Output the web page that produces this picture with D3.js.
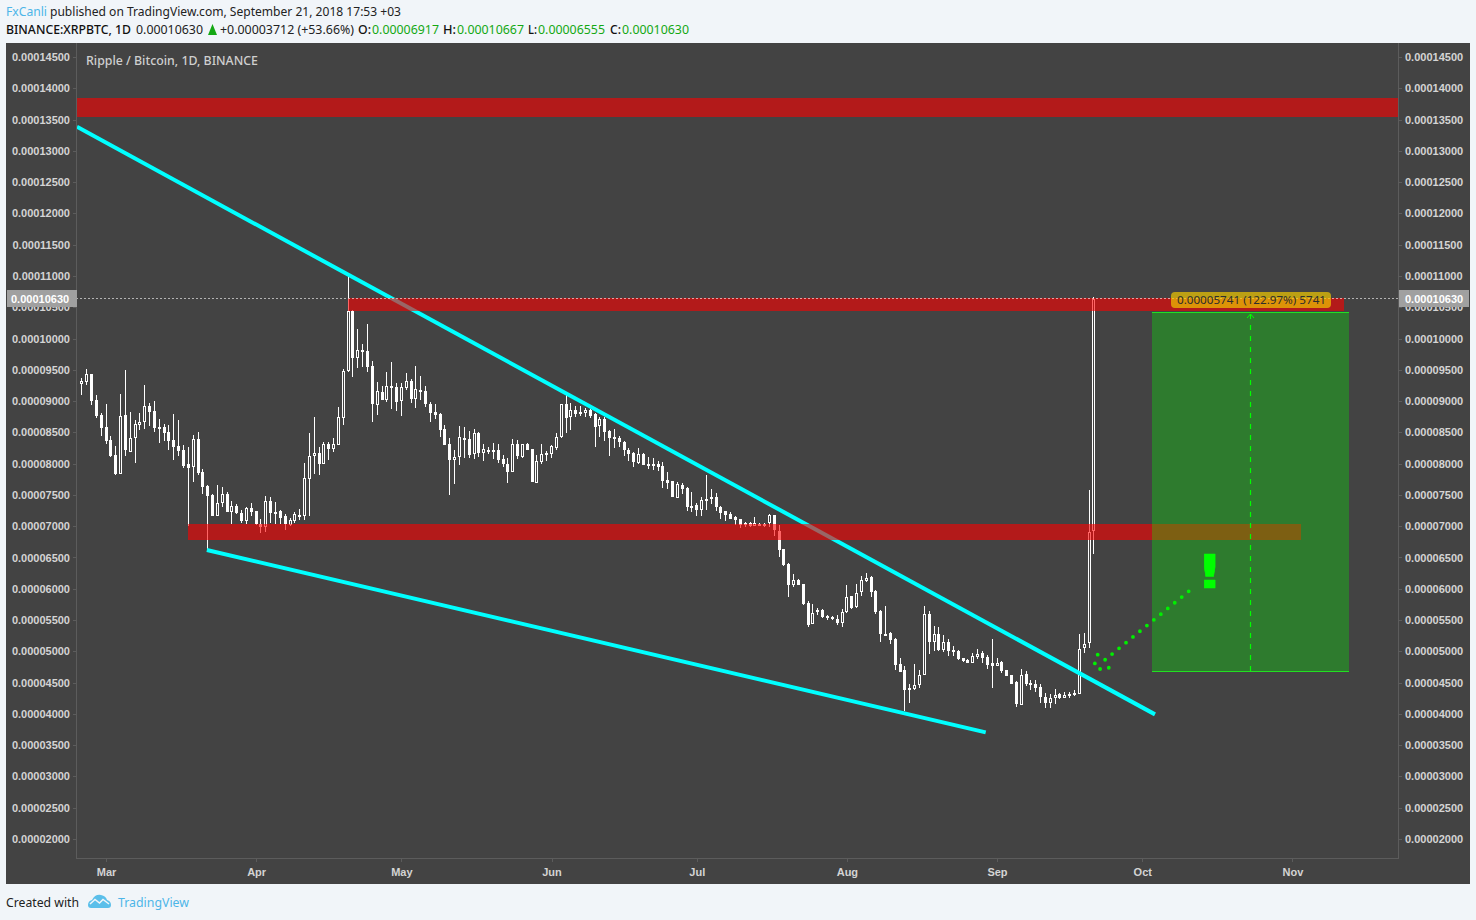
<!DOCTYPE html>
<html>
<head>
<meta charset="utf-8">
<style>html,body{margin:0;padding:0;background:#f1f5f9;overflow:hidden}svg{display:block}</style>
<script src="https://cdn.jsdelivr.net/npm/d3@7/dist/d3.min.js"></script>
</head>
<body>
<script>
// Daily candles in satoshi (1e-8 BTC), first candle 2018-02-24
const firstDay = "2018-02-24";
const opens = [
9278,9310,9432,9016,8777,8579,8377,8137,7838,8777,
8190,8414,8622,8670,8921,8841,8579,8585,8505,8377,
8281,8217,7988,7950,8393,7860,7641,7497,7167,7364,
7514,7231,7321,7210,7082,7290,7236,7034,6991,7396,
7220,7236,7162,7023,7082,7178,7162,7759,8115,8169,
7998,8314,8234,8303,8735,9481,10446,9694,9811,9801,
9561,8932,9145,9023,9236,9220,8996,9215,9321,9039,
9172,9161,8953,8820,8793,8553,8308,8058,8100,8404,
8394,8159,8484,8170,8223,8212,8212,8069,7994,7871,
8314,8111,8314,8234,7695,8031,8175,8159,8255,8431,
8948,8750,8856,8830,8814,8861,8792,8606,8712,8515,
8419,8403,8339,8217,8174,8009,8153,7993,7993,7993,
7961,7737,7721,7454,7662,7609,7321,7332,7257,7433,
7460,7460,7305,7236,7193,7145,7113,7044,7054,7006,
7038,7038,7044,7177,6921,6632,6392,6056,6147,6072,
5774,5433,5625,5667,5571,5550,5523,5454,5630,5881,
5710,5950,6120,6190,5966,5646,5284,5294,5198,4793,
4697,4410,4399,4457,4628,5593,5150,5284,5023,5156,
5017,5001,4889,4856,4814,4910,4968,4910,4808,4766,
4824,4696,4616,4504,4147,4632,4488,4472,4424,4275,
4174,4254,4312,4254,4323,4334,4318,5048,5128,6917];
const closes = [
9315,9427,9006,8766,8574,8366,8121,7833,8755,8222,
8403,8633,8659,8915,8830,8569,8558,8489,8361,8270,
8201,7961,7934,8393,7844,7625,7481,7167,7364,7508,
7226,7316,7215,7082,7284,7226,7034,6991,7396,7210,
7210,7130,7034,7092,7194,7167,7764,8115,8164,7993,
8308,8234,8308,8740,9476,10440,9694,9811,9779,9550,
8959,9156,9023,9236,9215,8991,9220,9316,9039,9188,
9145,8953,8815,8777,8543,8303,8058,8100,8420,8394,
8138,8484,8170,8228,8186,8186,8058,7994,7871,8308,
8127,8308,8218,7706,8037,8148,8148,8276,8431,8948,
8735,8856,8787,8792,8856,8766,8590,8712,8510,8414,
8398,8345,8217,8158,8025,8147,7982,7961,7961,7945,
7721,7689,7470,7673,7598,7310,7305,7257,7417,7401,
7433,7305,7209,7177,7118,7097,7027,7028,7001,7044,
7001,7001,7177,6937,6616,6376,6056,6147,6062,5753,
5428,5620,5667,5545,5545,5513,5454,5635,5875,5699,
5939,6147,6179,5950,5630,5284,5257,5177,4777,4665,
4377,4377,4468,4628,5593,5150,5284,5017,5156,5007,
4996,4873,4841,4814,4920,4963,4888,4776,4771,4819,
4680,4606,4483,4153,4627,4472,4462,4408,4265,4174,
4259,4307,4254,4307,4302,4318,5043,5112,6909,10630];
const highs = [
9363,9512,9432,9096,8803,8952,8441,8281,9112,9496,
8830,8697,8803,9256,8974,9000,8713,8627,8617,8793,
8697,8297,8260,8457,8505,7908,7657,7508,7657,7625,
7551,7401,7348,7258,7300,7364,7236,7114,7481,7460,
7385,7258,7194,7124,7220,7274,8009,8489,8745,8270,
8340,8351,8404,8905,9507,11050,10456,10147,9913,10233,
9641,9300,9241,9465,9625,9284,9284,9444,9358,9556,
9401,9236,8991,8948,8804,8617,8404,8218,8602,8591,
8522,8554,8500,8314,8260,8324,8314,8133,8095,8388,
8378,8314,8330,8234,8138,8314,8202,8292,8495,8948,
9097,8963,8920,8920,8883,8872,8814,8739,8739,8536,
8547,8446,8366,8243,8190,8243,8174,8099,8083,8041,
8025,7870,7726,7700,7683,7619,7545,7364,7460,7817,
7587,7524,7321,7246,7220,7161,7113,7065,7070,7150,
7044,7054,7193,7177,7016,6643,6419,6243,6163,6083,
5801,5763,5699,5683,5577,5566,5577,5683,6067,5881,
6083,6200,6254,6200,5977,5657,5721,5310,5209,4889,
4761,4474,4793,4697,5731,5641,5401,5390,5257,5204,
5081,5017,4900,4883,4979,5032,5006,4936,5192,4899,
4840,4707,4627,4520,4723,4680,4547,4536,4472,4339,
4323,4392,4334,4350,4350,4376,5283,5288,7576,10667];
const lows = [
9102,9256,8937,8734,8441,8313,8110,7823,7838,8121,
8190,8014,8537,8558,8601,8510,8334,8361,8217,8057,
8121,7924,7000,7705,7812,7514,6584,7167,7167,7311,
7226,7028,7199,7055,7034,7162,7018,6895,6911,7044,
7034,7034,6938,7007,7044,7098,7098,7162,7833,7817,
7998,8058,8191,8303,8617,9460,9390,9534,9550,9470,
8671,8783,9017,8991,8868,8847,8767,9177,8975,8895,
9017,8911,8671,8713,8431,8298,7498,7674,7978,8085,
8085,8074,8106,8047,8154,8069,8015,7941,7685,7871,
8069,8085,8218,7706,7695,7994,8047,8095,8218,8415,
8495,8536,8750,8766,8750,8734,8270,8430,8366,8126,
8254,8270,8126,8041,7950,7993,7982,7918,7897,7886,
7614,7598,7470,7454,7513,7246,7230,7161,7161,7257,
7353,7246,7118,7086,7118,7022,6975,6990,6990,7006,
7001,6980,6990,6840,6510,6366,5870,6030,6062,5737,
5390,5433,5577,5540,5507,5497,5428,5390,5614,5678,
5694,5881,6105,5870,5593,5150,5241,5124,4697,4665,
4042,4175,4388,4420,4628,4953,5007,5007,4991,4921,
4921,4857,4830,4814,4814,4878,4814,4723,4414,4766,
4654,4606,4472,4110,4147,4440,4387,4350,4174,4094,
4094,4163,4232,4254,4254,4281,4318,4974,5053,6555];

const priceTicks = [14500,14000,13500,13000,12500,12000,11500,11000,10500,10000,9500,9000,8500,8000,7500,7000,6500,6000,5500,5000,4500,4000,3500,3000,2500,2000];
const monthTicks = ["2018-03-01","2018-04-01","2018-05-01","2018-06-01","2018-07-01","2018-08-01","2018-09-01","2018-10-01","2018-11-01"];
const lastPrice = 10630;

// Drawn objects, by date and price
const redZoneStarts = ["2018-02-23","2018-04-20","2018-03-18"];
const redZoneEnds   = ["2018-12-31","2018-11-11T17:00Z","2018-11-02T19:00Z"];
const redZoneTops   = [13848,10653,7037];
const redZoneBottoms= [13544,10435,6784];
const trendStartDates = ["2018-02-23T00:00Z","2018-03-21T20:00Z"];
const trendStartPrices = [13384,6620];
const trendEndDates = ["2018-10-03T15:00Z","2018-08-29T16:00Z"];
const trendEndPrices = [3992,3704];
const boxStart = "2018-10-02T22:00Z", boxEnd = "2018-11-12T19:00Z", boxMid = "2018-10-23T08:00Z";
const boxEntry = 4677, boxTarget = 10418;
const arrowStart = ["2018-10-10T14:00Z",5959], arrowEnd = ["2018-09-21T22:00Z",4776];
const arrowDates = ["2018-09-21T19:00Z","2018-09-21T05:00Z","2018-09-22T07:00Z","2018-09-24T02:00Z"];
const arrowPrices = [4946,4807,4717,4737];
const warnDate = "2018-10-14T22:00Z", warnPrice = 6290;

const W = 1476, H = 920, L = 76, R = 1398, B = 858, T = 43;
const dayMs = 864e5;
const D = s => new Date(s.length === 10 ? s + "T00:00Z" : s);

const x = d3.scaleUtc().domain([D("2018-03-01"), D("2018-09-01")]).range([106, 997]);
const y = d3.scaleLinear().domain([2000, 14500]).range([839, 57]);
const fmt = v => (v / 1e8).toFixed(8);

const svg = d3.select("body").append("svg").attr("width", W).attr("height", H);
svg.append("rect").attr("width", W).attr("height", H).attr("fill", "#f1f5f9");
svg.append("rect").attr("x", 6).attr("y", T).attr("width", 1464).attr("height", 841).attr("fill", "#434343");

const defs = svg.append("defs");
defs.append("clipPath").attr("id", "plot").append("rect").attr("x", L + 1).attr("y", T).attr("width", R - L - 1).attr("height", B - T);

const UI = "'Noto Sans', 'Open Sans', sans-serif";
const AX = "'Liberation Sans', Arial, sans-serif";
function label(xp, yp, str, width, opt = {}) {
  return svg.append("text").attr("x", xp).attr("y", yp).text(str)
    .attr("font-family", opt.font || UI).attr("font-size", opt.size || 13)
    .attr("font-weight", opt.weight || 400).attr("fill", opt.fill || "#222")
    .attr("textLength", width).attr("lengthAdjust", "spacingAndGlyphs");
}

// Header
label(6, 16, "FxCanli", 41, {fill: "#4db5e8"});
label(50, 16, "published on TradingView.com, September 21, 2018 17:53 +03", 351);
const GREEN = "#14a814";
label(6, 34, "BINANCE:XRPBTC, 1D", 125, {weight: 500, fill: "#111"});
label(136, 34, fmt(lastPrice), 67);
svg.append("path").attr("d", "M208 35 L212.5 24 L217 35 Z").attr("fill", GREEN);
label(220, 34, "+0.00003712 (+53.66%)", 134);
label(358, 34, "O:", 13, {weight: 500, fill: "#111"});
label(372, 34, fmt(opens[209]), 67, {fill: GREEN});
label(443, 34, "H:", 13, {weight: 500, fill: "#111"});
label(457, 34, fmt(highs[209]), 67, {fill: GREEN});
label(528, 34, "L:", 9, {weight: 500, fill: "#111"});
label(538, 34, fmt(lows[209]), 67, {fill: GREEN});
label(610, 34, "C:", 11, {weight: 500, fill: "#111"});
label(622, 34, fmt(closes[209]), 67, {fill: GREEN});

// Axes
const grid = "#5c5c5c";
function styleAxis(g) {
  g.select(".domain").remove();
  g.selectAll(".tick line").attr("stroke", grid).attr("shape-rendering", "crispEdges");
  g.selectAll("text").attr("fill", "#d4d4d4").attr("font-family", AX).attr("font-size", 11).attr("font-weight", 700);
}
svg.append("g").attr("transform", `translate(${L},0)`)
  .call(d3.axisLeft(y).tickValues(priceTicks).tickFormat(fmt).tickSize(3).tickPadding(3)).call(styleAxis);
svg.append("g").attr("transform", `translate(${R + 1},0)`)
  .call(d3.axisRight(y).tickValues(priceTicks).tickFormat(fmt).tickSize(3).tickPadding(3)).call(styleAxis);
svg.append("g").attr("transform", `translate(0,${B})`)
  .call(d3.axisBottom(x).tickValues(monthTicks.map(D)).tickFormat(d3.utcFormat("%b")).tickSize(4).tickPadding(6)).call(styleAxis);
[[L + .5, T, L + .5, B], [R + .5, T, R + .5, B], [L, B + .5, R + 1, B + .5]].forEach(a =>
  svg.append("line").attr("x1", a[0]).attr("y1", a[1]).attr("x2", a[2]).attr("y2", a[3]).attr("stroke", grid));

label(86, 65, "Ripple / Bitcoin, 1D, BINANCE", 172, {fill: "#cfcfcf", weight: 500});

const plot = svg.append("g").attr("clip-path", "url(#plot)");

// Candles
const start = D(firstDay).getTime();
const candles = opens.map((o, i) => ({date: new Date(start + i * dayMs), o, c: closes[i], h: highs[i], l: lows[i]}));
const px = d => Math.floor(x(d.date));
const cg = plot.append("g").attr("shape-rendering", "crispEdges");
cg.selectAll(".wick").data(candles).join("rect").attr("class", "wick")
  .attr("x", px).attr("width", 1)
  .attr("y", d => Math.round(y(d.h))).attr("height", d => Math.max(1, Math.round(y(d.l)) - Math.round(y(d.h))))
  .attr("fill", "#fff");
cg.selectAll(".body").data(candles).join("rect").attr("class", "body")
  .attr("x", d => px(d) - 1).attr("width", 3)
  .attr("y", d => Math.round(y(Math.max(d.o, d.c))))
  .attr("height", d => Math.max(2, Math.round(y(Math.min(d.o, d.c))) - Math.round(y(Math.max(d.o, d.c)))))
  .attr("fill", "#fff");
cg.selectAll(".hole").data(candles.filter(d => d.c > d.o)).join("rect").attr("class", "hole")
  .attr("x", px).attr("width", 1)
  .attr("y", d => Math.round(y(d.c)) + 1)
  .attr("height", d => Math.max(0, Math.round(y(d.o)) - Math.round(y(d.c)) - 2))
  .attr("fill", "#434343");

// Trend lines
plot.selectAll(".trend").data(trendStartDates).join("line").attr("class", "trend")
  .attr("x1", d => x(D(d))).attr("y1", (d, i) => y(trendStartPrices[i]))
  .attr("x2", (d, i) => x(D(trendEndDates[i]))).attr("y2", (d, i) => y(trendEndPrices[i]))
  .attr("stroke", "#00ffff").attr("stroke-width", 4);

// Red zones
plot.selectAll(".zone").data(redZoneStarts).join("rect").attr("class", "zone")
  .attr("x", d => x(D(d))).attr("width", (d, i) => x(D(redZoneEnds[i])) - x(D(d)))
  .attr("y", (d, i) => y(redZoneTops[i])).attr("height", (d, i) => y(redZoneBottoms[i]) - y(redZoneTops[i]))
  .attr("fill", "rgba(255,0,0,0.6)").attr("shape-rendering", "crispEdges");

// Last-price line
const lastY = Math.round(y(lastPrice)) - .5;
plot.append("line").attr("x1", L).attr("x2", R).attr("y1", lastY).attr("y2", lastY)
  .attr("stroke", "rgba(255,255,255,.6)").attr("stroke-dasharray", "2 2");

// Long-position box
const bx0 = Math.round(x(D(boxStart))), bx1 = Math.round(x(D(boxEnd)));
const byT = Math.floor(y(boxTarget)), byB = Math.floor(y(boxEntry));
plot.append("rect").attr("x", bx0).attr("width", bx1 - bx0).attr("y", byT).attr("height", byB - byT)
  .attr("fill", "rgba(0,255,0,0.3)").attr("shape-rendering", "crispEdges");
[byT, byB].forEach(v => plot.append("line").attr("x1", bx0).attr("x2", bx1).attr("y1", v + .5).attr("y2", v + .5).attr("stroke", "#22e022"));
const bxm = Math.floor(x(D(boxMid))) + .5;
plot.append("line").attr("x1", bxm).attr("x2", bxm).attr("y1", byB).attr("y2", byT + 2)
  .attr("stroke", "#00ff00").attr("stroke-width", 1.2).attr("stroke-dasharray", "5 6");
plot.append("path").attr("d", `M${bxm - 3.5} ${byT + 6} L${bxm} ${byT + 2} L${bxm + 3.5} ${byT + 6}`)
  .attr("fill", "none").attr("stroke", "#00ff00");

// Measure label
svg.append("rect").attr("x", 1171).attr("y", 292).attr("width", 160).attr("height", 16).attr("rx", 4)
  .attr("fill", "rgba(240,200,0,0.7)");
label(1177, 304, "0.00005741 (122.97%) 5741", 149, {size: 11, fill: "#2e2e2e"});

// Arrow and exclamation mark
plot.append("line").attr("x1", x(D(arrowStart[0]))).attr("y1", y(arrowStart[1]))
  .attr("x2", x(D(arrowEnd[0]))).attr("y2", y(arrowEnd[1]))
  .attr("stroke", "#00f000").attr("stroke-width", 3.8).attr("stroke-linecap", "round").attr("stroke-dasharray", "0 9");
plot.selectAll(".adot").data(arrowDates).join("circle").attr("class", "adot")
  .attr("cx", d => x(D(d))).attr("cy", (d, i) => y(arrowPrices[i])).attr("r", 1.9).attr("fill", "#00f000");
svg.append("text").attr("transform", `translate(${x(D(warnDate))},${y(warnPrice)}) scale(1.3,1)`).attr("dy", "0.36em").text("!")
  .attr("text-anchor", "middle").attr("font-family", "'DejaVu Sans'").attr("font-weight", 700).attr("font-size", 47)
  .attr("fill", "#00ff00").attr("stroke", "#00ff00").attr("stroke-width", 0.5).attr("stroke-linejoin", "round");

// Last-price tags on both axes
[[7, 11], [1399, 1405]].forEach(a => {
  svg.append("rect").attr("x", a[0]).attr("y", 290).attr("width", 70).attr("height", 17).attr("fill", "#a0a0a0");
  svg.append("text").attr("x", a[1]).attr("y", 302.5).text(fmt(lastPrice)).attr("fill", "#fff")
    .attr("font-family", AX).attr("font-size", 11).attr("font-weight", 700);
});

// Footer
label(6, 907, "Created with", 73, {fill: "#222"});
svg.append("path").attr("d", "M88 905 Q88 901 92 900 Q95 894 101 895 Q106 896 107 900 Q111 901 111 905 Q111 908 108 908 L91 908 Q88 908 88 905 Z").attr("fill", "#5bbfea");
svg.append("path").attr("d", "M90 904 L95 899.5 L99.5 903 L103 899.5 L109 904").attr("fill", "none").attr("stroke", "#f1f5f9").attr("stroke-width", 1.5);
label(118, 907, "TradingView", 71, {fill: "#4db5e8"});
</script>
</body>
</html>
